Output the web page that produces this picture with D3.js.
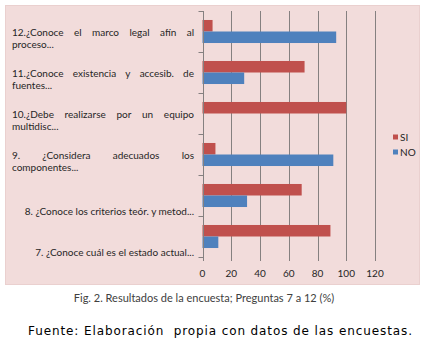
<!DOCTYPE html>
<html>
<head>
<meta charset="utf-8">
<script src="https://cdn.jsdelivr.net/npm/d3@7"></script>
<style>
  html, body { margin: 0; padding: 0; background: #ffffff; }
  svg { display: block; }
</style>
</head>
<body>
<svg id="chart" width="428" height="339"></svg>
<script>
// Survey questions, top to bottom; "\n" marks where the label wraps
const categories = [
  "12.¿Conoce el marco legal afín al\nproceso...",
  "11.¿Conoce existencia y accesib. de\nfuentes...",
  "10.¿Debe realizarse por un equipo\nmultidisc...",
  "9. ¿Considera adecuados los\ncomponentes...",
  "8. ¿Conoce los criterios teór. y metod...",
  "7. ¿Conoce cuál es el estado actual..."
];
const seriesNames = ["SI", "NO"];
const siValues = [7, 71, 100, 9, 69, 89];
const noValues = [93, 29, 0, 91, 31, 11];
const xTicks = [0, 20, 40, 60, 80, 100, 120];
const caption = "Fig. 2. Resultados de la encuesta; Preguntas 7 a 12 (%)";
const source = "Fuente: Elaboración  propia con datos de las encuestas.";

const colors = { SI: "#c0504d", NO: "#4f81bd" };
const chartFont = "Lato, 'Open Sans', sans-serif";

const svg = d3.select("#chart");

// chart area background
svg.append("rect")
  .attr("x", 5.5).attr("y", 5.5)
  .attr("width", 414).attr("height", 279)
  .attr("fill", "#f2dcdb")
  .attr("stroke", "#ead0cf");

const x = d3.scaleLinear().domain([0, 120]).range([202.5, 375]);
const y = d3.scaleBand().domain(categories).range([11, 257]).paddingInner(0).paddingOuter(0);
const ySeries = d3.scaleBand().domain(seriesNames).range([0, y.bandwidth()]).paddingInner(0).paddingOuter(0.78);

// vertical gridlines
svg.append("g")
  .selectAll("line")
  .data(xTicks.slice(1))
  .join("line")
  .attr("x1", d => Math.round(x(d)) + 0.5)
  .attr("x2", d => Math.round(x(d)) + 0.5)
  .attr("y1", y.range()[0])
  .attr("y2", y.range()[1] + 4)
  .attr("stroke", "#858080")
  .attr("stroke-width", 1);

// bars
const rows = categories.map((c, i) => ({ cat: c, SI: siValues[i], NO: noValues[i] }));
const groups = svg.append("g")
  .selectAll("g")
  .data(rows)
  .join("g")
  .attr("transform", d => `translate(0,${y(d.cat)})`);

groups.selectAll("rect")
  .data(d => seriesNames.map(s => ({ s, v: d[s] })))
  .join("rect")
  .attr("x", x(0))
  .attr("y", d => ySeries(d.s))
  .attr("width", d => x(d.v) - x(0))
  .attr("height", ySeries.bandwidth())
  .attr("fill", d => colors[d.s]);

// category axis
const yAxis = svg.append("g")
  .attr("transform", `translate(${Math.round(x(0)) + 0.5},0)`);
yAxis.append("line")
  .attr("y1", y.range()[0]).attr("y2", y.range()[1] + 4)
  .attr("stroke", "#858080");
const bounds = categories.map(c => y(c)).concat([y.range()[1]]);
yAxis.selectAll("line.tick")
  .data(bounds)
  .join("line")
  .attr("class", "tick")
  .attr("x1", -5).attr("x2", 0)
  .attr("y1", d => Math.round(d) + 0.5).attr("y2", d => Math.round(d) + 0.5)
  .attr("stroke", "#858080");

// category labels: wrapped labels justified on their first line
const labelLeft = 12, labelRight = 194;
const labels = svg.append("g")
  .attr("font-family", chartFont)
  .attr("font-size", 10)
  .attr("fill", "#262626");

categories.forEach(c => {
  const cy = y(c) + y.bandwidth() / 2;
  const lines = c.split("\n");
  if (lines.length === 1) {
    labels.append("text")
      .attr("x", labelRight).attr("y", cy + 15)
      .attr("text-anchor", "end")
      .attr("dominant-baseline", "central")
      .text(lines[0]);
    return;
  }
  const words = lines[0].split(" ");
  const nodes = words.map(w => labels.append("text")
    .attr("y", cy + 0.5)
    .attr("dominant-baseline", "central")
    .text(w));
  const widths = nodes.map(n => n.node().getComputedTextLength());
  const gap = (labelRight - labelLeft - d3.sum(widths)) / (words.length - 1);
  let cx = labelLeft;
  nodes.forEach((n, i) => { n.attr("x", cx); cx += widths[i] + gap; });
  labels.append("text")
    .attr("x", labelLeft).attr("y", cy + 12.5)
    .attr("dominant-baseline", "central")
    .text(lines[1]);
});

// value axis labels
svg.append("g")
  .attr("font-family", chartFont)
  .attr("font-size", 10)
  .attr("fill", "#262626")
  .selectAll("text")
  .data(xTicks)
  .join("text")
  .attr("x", d => x(d))
  .attr("y", 273)
  .attr("text-anchor", "middle")
  .attr("dominant-baseline", "central")
  .text(d => d);

// legend
const legend = svg.append("g")
  .attr("font-family", chartFont)
  .attr("font-size", 10)
  .attr("fill", "#262626");
seriesNames.forEach((s, i) => {
  const ly = 137 + i * 15;
  legend.append("rect")
    .attr("x", 393).attr("y", ly - 2.5)
    .attr("width", 5).attr("height", 5)
    .attr("fill", colors[s]);
  legend.append("text")
    .attr("x", 400).attr("y", ly)
    .attr("dominant-baseline", "central")
    .text(s);
});

// caption and source line
svg.append("text")
  .attr("x", 204).attr("y", 297)
  .attr("text-anchor", "middle")
  .attr("dominant-baseline", "central")
  .attr("font-family", chartFont)
  .attr("font-size", 11)
  .attr("fill", "#404040")
  .text(caption);

svg.append("text")
  .attr("x", 220).attr("y", 331)
  .attr("text-anchor", "middle")
  .attr("dominant-baseline", "central")
  .attr("font-family", "Verdana, 'DejaVu Sans', sans-serif")
  .attr("font-size", 12)
  .attr("fill", "#000000")
  .attr("textLength", 384)
  .attr("lengthAdjust", "spacing")
  .style("white-space", "pre")
  .text(source);
</script>
</body>
</html>
